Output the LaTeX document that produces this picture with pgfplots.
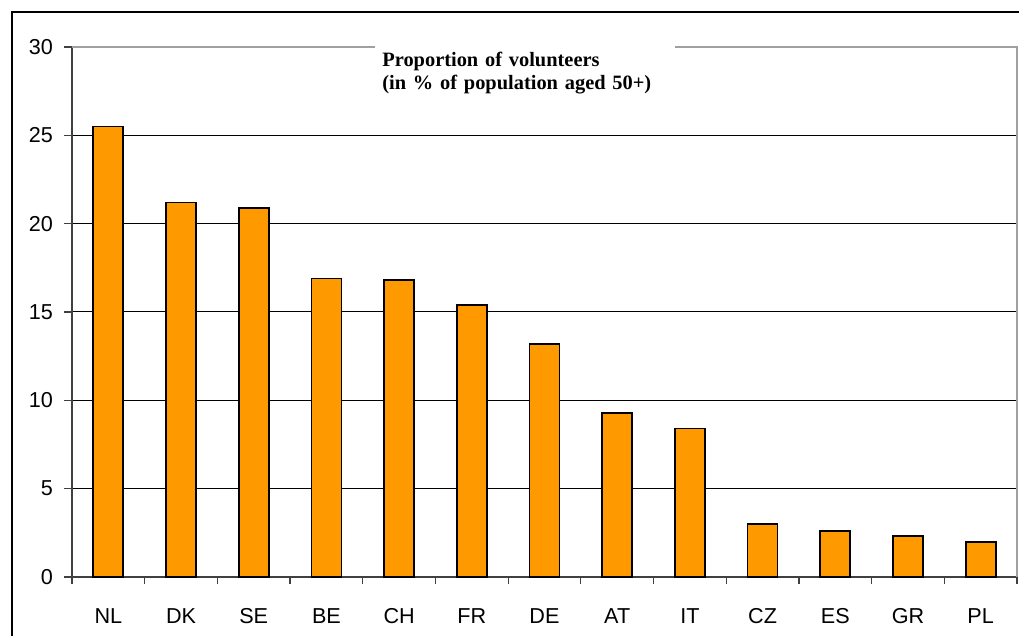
\documentclass[border=0pt]{standalone}
\usepackage{fontspec}
\setmainfont{Liberation Sans}
\newfontfamily\titlefont{Liberation Serif}
\usepackage{pgfplots}
\pgfplotsset{compat=1.18}
\definecolor{barorange}{RGB}{255,153,0}
\definecolor{bordergray}{RGB}{160,160,160}
\definecolor{axisdark}{RGB}{64,64,64}

\begin{document}
\begin{tikzpicture}[x=1pt,y=1pt]
\useasboundingbox (0,0) rectangle (509.5,318);
% outer chart frame (right and bottom edges are cut off in the original)
\draw[black, line width=0.6pt] (6,0) -- (6,312) -- (509.5,312);
\begin{axis}[
  at={(36pt,29.5pt)}, anchor=south west,
  scale only axis, width=472.5pt, height=265pt,
  xmin=-0.5, xmax=12.5, ymin=0, ymax=30,
  ytick={0,5,...,30},
  xtick={0,...,12},
  xticklabels={NL,DK,SE,BE,CH,FR,DE,AT,IT,CZ,ES,GR,PL},
  minor xtick={-0.5,0.5,...,12.5},
  axis x line*=bottom, axis y line*=left,
  tick align=outside,
  major tick length=4pt, minor tick length=3.5pt,
  major x tick style={draw=none},
  minor x tick style={draw=axisdark, line width=0.6pt},
  major y tick style={draw=axisdark, line width=0.6pt},
  ymajorgrids, major grid style={black, line width=0.5pt},
  axis line style={axisdark, line width=1pt},
  ticklabel style={font=\fontsize{10.8}{12}\selectfont},
  /pgf/number format/assume math mode=true,
  yticklabel style={xshift=-2pt},
  xticklabel style={yshift=-8pt, text height=7.8pt, text depth=0pt},
  ybar, bar width=15pt,
  clip=false,
]
\addplot[fill=barorange, draw=black, line width=0.9pt] coordinates {
  (0,25.5) (1,21.2) (2,20.9) (3,16.9) (4,16.8) (5,15.4) (6,13.2)
  (7,9.3) (8,8.4) (9,3.0) (10,2.6) (11,2.3) (12,2.0)
};
\draw[bordergray, line width=0.8pt] (rel axis cs:0,1) -- (rel axis cs:1,1) -- (rel axis cs:1,0);
\node[fill=white, anchor=north west, text width=143pt, inner xsep=3.5pt, inner ysep=7pt,
  align=left, font=\titlefont\bfseries\fontsize{10.2}{11.5}\selectfont, yshift=4.5pt]
  at (rel axis cs:0.3206,1) {Proportion of volunteers\\(in \% of population aged 50+)};
\end{axis}
\end{tikzpicture}
\end{document}
